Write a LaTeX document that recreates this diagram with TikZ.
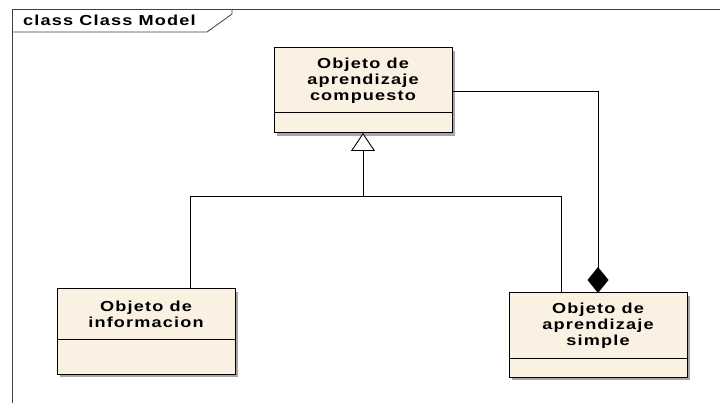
\documentclass[tikz,border=0pt]{standalone}
\usepackage{fontspec}
\newfontfamily\umlfont[FakeStretch=1.25, LetterSpace=8]{Liberation Sans}
\usetikzlibrary{positioning,arrows.meta,shadows}
\definecolor{classfill}{RGB}{251,241,227}

\begin{document}
\begin{tikzpicture}[
    x=1pt, y=1pt,
    font=\umlfont\bfseries\fontsize{14.5}{16}\selectfont,
    umlclass/.style={
        draw=black,
        fill=classfill,
        line width=1pt,
        minimum width=178pt,
        align=center,
        inner sep=0pt,
        outer sep=0pt,
        drop shadow={shadow xshift=3pt, shadow yshift=-3pt, fill=black!35, opacity=1}
        },
    frame/.style={draw=black!75, line width=0.8pt},
    link/.style={draw=black, line width=0.9pt}
    ]
    \useasboundingbox (0,0) rectangle (720,-403);
    \draw[frame] (12.5,-403) -- (12.5,-9) -- (720,-9);
    \draw[frame] (12.5,-32) -- (207,-32) -- (232,-14) -- (232,-9);
    \node[anchor=west, inner sep=0pt] (title) at (23,-20.5) {class Class Model};

    \begin{scope}[on grid]
    \node[umlclass, minimum height=65pt] (compuesto) at (363,-80.5) {Objeto de\\aprendizaje\\compuesto};
    \node[umlclass, minimum height=50pt] (informacion) [below left = 233.5pt and 217pt of compuesto] {Objeto de\\informacion};
    \node[umlclass, minimum height=65pt] (simple) [below right = 245pt and 235pt of compuesto] {Objeto de\\aprendizaje\\simple};
    \end{scope}
    \node[umlclass, minimum height=20pt] (compuesto attr) [below=0pt of compuesto] {};
    \node[umlclass, minimum height=35pt] (informacion attr) [below=0pt of informacion] {};
    \node[umlclass, minimum height=19pt] (simple attr) [below=0pt of simple] {};

    \coordinate[below=63pt of compuesto attr] (fork);
    \draw[link] ([xshift=44pt]informacion.north) |- (fork);
    \draw[link] ([xshift=-37pt]simple.north) |- (fork);
    \draw[link, -{Triangle[open, width=24pt, length=18pt, fill=white]}] (fork) -- (compuesto attr);
    \draw[link, -{Diamond[width=21pt, length=26pt]}] ([yshift=-10.5pt]compuesto.east) -| (simple.north);
\end{tikzpicture}
\end{document}
